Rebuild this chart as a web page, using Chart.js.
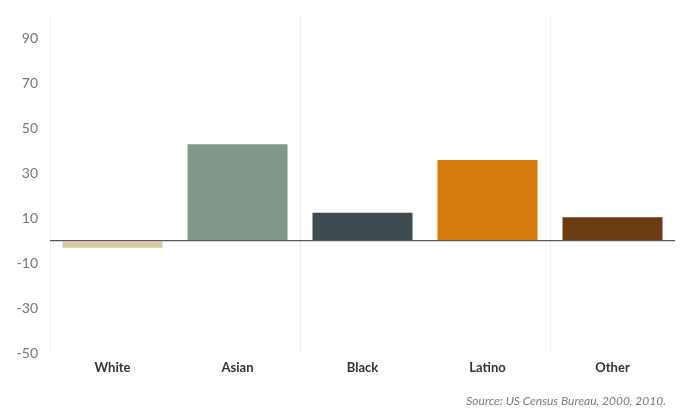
<!DOCTYPE html>
<html>
<head>
<meta charset="utf-8">
<script src="https://cdn.jsdelivr.net/npm/chart.js@4"></script>
<style>
  html, body { margin: 0; padding: 0; background: #fff; }
  #wrap { width: 683px; height: 411px; }
</style>
</head>
<body>
<div id="wrap"><canvas id="chart"></canvas></div>
<script>
const categories = ["White", "Asian", "Black", "Latino", "Other"];
const growth = [-3, 43, 12.5, 36, 10.5];
const barColors = ["#dcc8a0", "#7e9987", "#3d4a50", "#d6790e", "#6d3b12"];
const yTicks = [90, 70, 50, 30, 10, -10, -30, -50];
const sourceText = "Source: US Census Bureau, 2000, 2010.";

const FONT = "Lato, 'Open Sans', sans-serif";

// source note in the bottom right corner
const sourceNote = {
  id: "sourceNote",
  afterDraw(chart) {
    const ctx = chart.ctx;
    ctx.save();
    ctx.font = "italic 12px " + FONT;
    ctx.fillStyle = "#7a7a7a";
    ctx.textAlign = "right";
    ctx.textBaseline = "middle";
    ctx.fillText(sourceText, chart.chartArea.right - 9, 401);
    ctx.restore();
  },
};

const chart = new Chart(document.getElementById("chart"), {
  type: "bar",
  data: {
    labels: categories,
    datasets: [
      {
        data: growth,
        backgroundColor: barColors,
        borderWidth: 0,
        barPercentage: 0.8,
        categoryPercentage: 1,
      },
    ],
  },
  options: {
    responsive: true,
    maintainAspectRatio: false,
    animation: false,
    layout: {
      padding: { top: 16, right: 8, left: 0, bottom: 28 },
    },
    scales: {
      x: {
        border: { display: false },
        grid: {
          // faint separators every other category
          color: (ctx) => (ctx.index % 2 === 0 ? "#f0f0f0" : "transparent"),
          drawTicks: false,
        },
        ticks: {
          color: "#333",
          padding: 7,
          font: { family: FONT, size: 13, weight: "bold" },
        },
      },
      y: {
        min: -50,
        max: 100,
        border: { display: false },
        afterFit: (scale) => {
          scale.width = 50;
          scale.paddingTop = 0;
          scale.paddingBottom = 0;
        },
        afterBuildTicks: (scale) => {
          // 0 is only there for the baseline, its label is hidden
          scale.ticks = yTicks.concat([0]).map((v) => ({ value: v }));
        },
        grid: {
          color: (ctx) => (ctx.tick && ctx.tick.value === 0 ? "#5a5a5a" : "transparent"),
          lineWidth: 1.2,
          drawTicks: false,
          z: 1,
        },
        ticks: {
          color: "#777",
          padding: 12,
          font: { family: FONT, size: 14 },
          callback: (v) => (v === 0 ? "" : v),
        },
      },
    },
    plugins: {
      legend: { display: false },
      tooltip: { enabled: false },
    },
  },
  plugins: [sourceNote],
});
</script>
</body>
</html>
